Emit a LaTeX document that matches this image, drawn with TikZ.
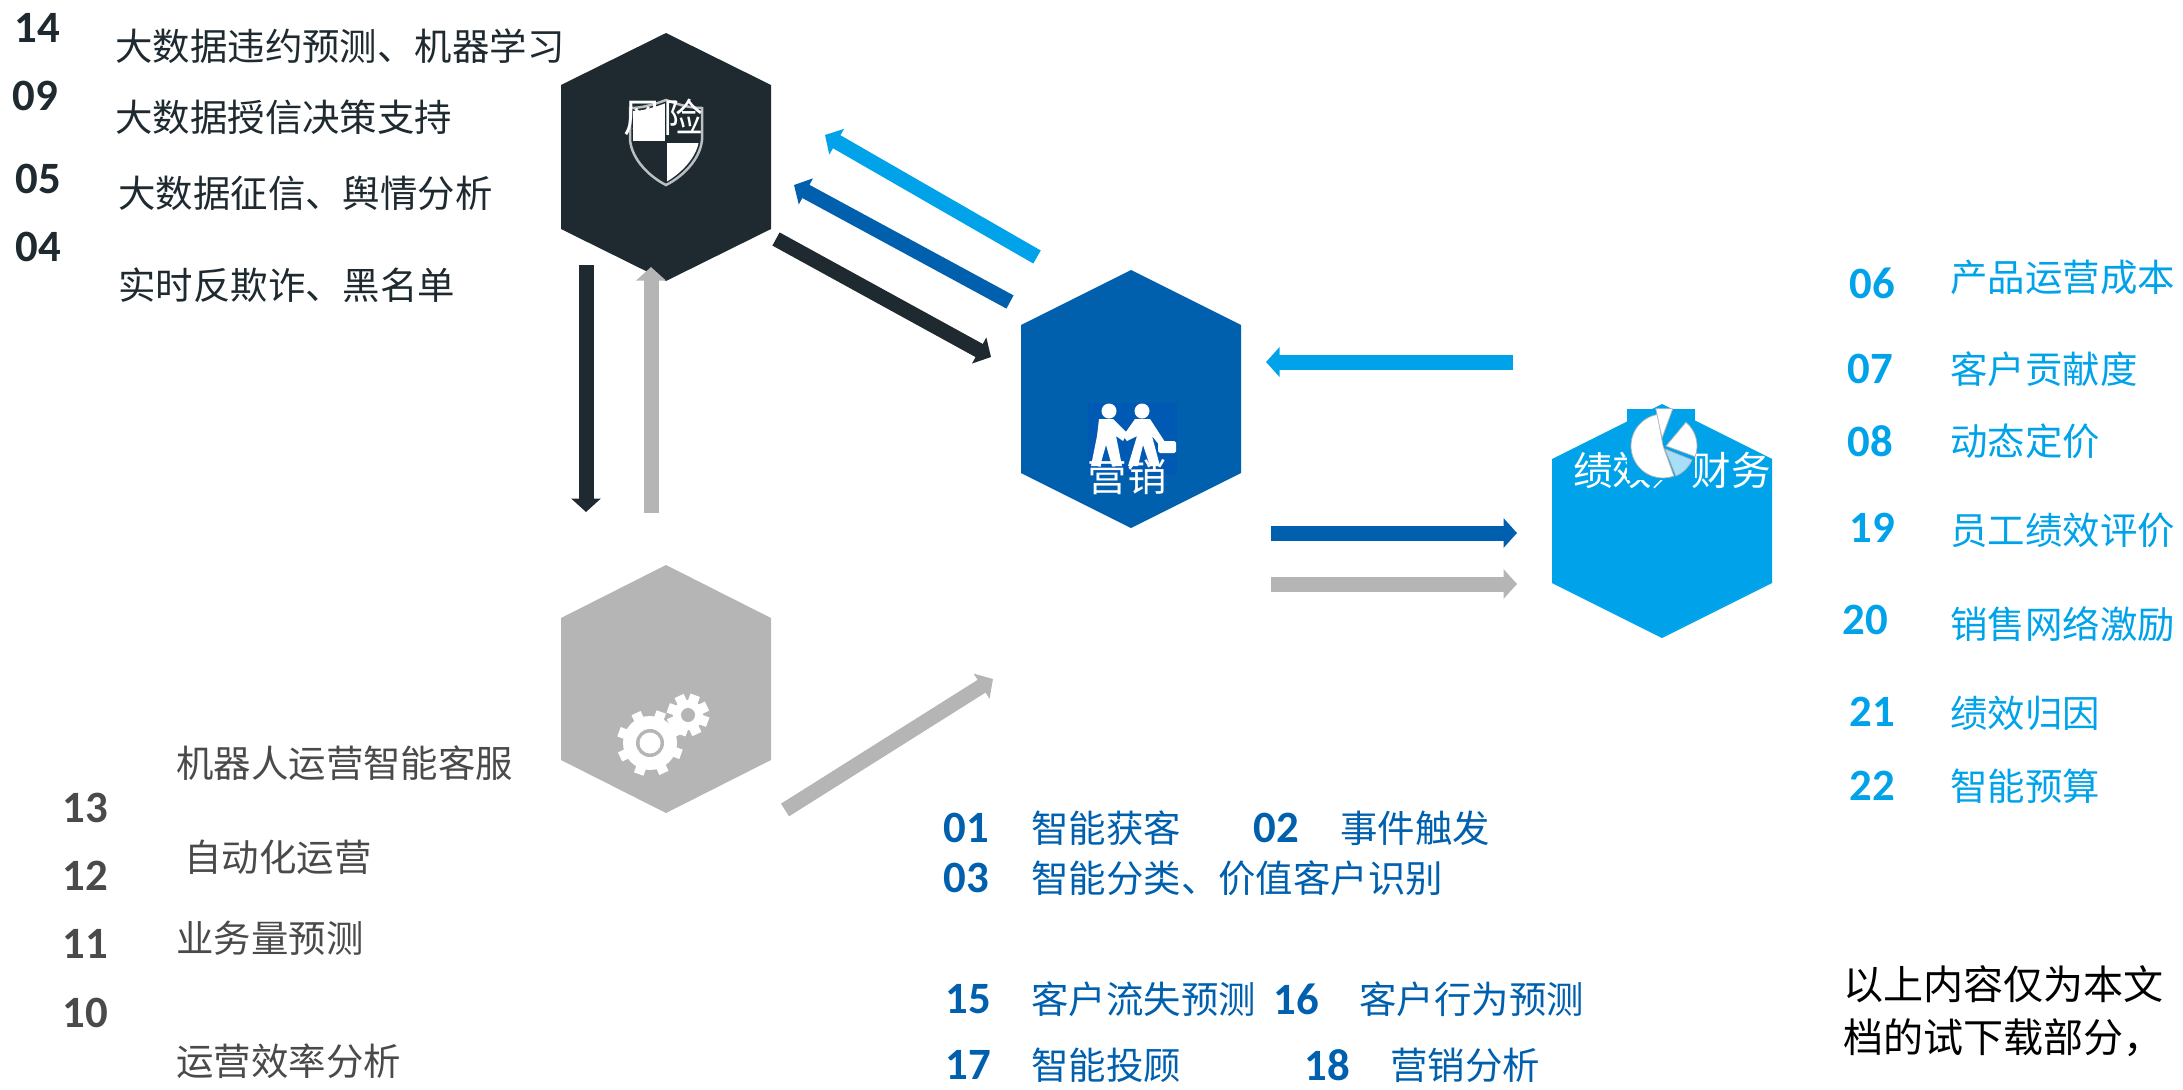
\documentclass[tikz,border=0pt]{standalone}
\usepackage{fontspec}
\setmainfont{Noto Sans CJK SC}
\newfontfamily\numfont{Carlito}
\usetikzlibrary{arrows.meta}
\definecolor{riskdark}{HTML}{1E2A30}
\definecolor{salesblue}{HTML}{0060AE}
\definecolor{financeblue}{HTML}{00A3E9}
\definecolor{opsgray}{HTML}{B5B5B5}
\definecolor{opstext}{HTML}{4A4A4A}
\tikzset{
  fatarrow/.style={line width=.3cm,-{Triangle[width=.58cm,length=.27cm]}},
  txt/.style={anchor=west,inner sep=0pt,font=\fontsize{21.3}{21.3}\selectfont},
  num/.style={inner sep=0pt,font=\fontsize{25.5}{25.5}\selectfont\numfont\bfseries},
  hexlabel/.style={inner sep=0pt,text=white,font=\fontsize{22.5}{22.5}\selectfont},
  notice/.style={anchor=west,inner sep=0pt,font=\fontsize{22.8}{22.8}\selectfont}
}
\begin{document}
\begin{tikzpicture}[x=.02cm,y=-.02cm]
\useasboundingbox (0,0) rectangle (2183,1089);
\fill[riskdark] (666,33) -- (771,85) -- (771,229) -- (666,281) -- (561,229) -- (561,85) -- cycle;
\fill[salesblue] (1131,270) -- (1241,325) -- (1241,473) -- (1131,528) -- (1021,473) -- (1021,325) -- cycle;
\fill[financeblue] (1662,404) -- (1772,459) -- (1772,583) -- (1662,638) -- (1552,583) -- (1552,459) -- cycle;
\fill[opsgray] (666,565) -- (771,618) -- (771,760) -- (666,813) -- (561,760) -- (561,618) -- cycle;
\draw[white!70!riskdark,line width=.05cm,fill=riskdark] (666,100) .. controls (650,106) and (640,108) .. (630,108) -- (630,140) .. controls (632,160) and (650,177) .. (666,185) .. controls (682,177) and (700,160) .. (702,140) -- (702,108) .. controls (692,108) and (682,106) .. (666,100) -- cycle;
\begin{scope}
\clip (666,103) .. controls (650,109) and (640,111) .. (633,111) -- (633,140) .. controls (635,158) and (652,174) .. (666,182) .. controls (680,174) and (697,158) .. (699,140) -- (699,111) .. controls (692,111) and (682,109) .. (666,103) -- cycle;
\fill[white] (630,100) rectangle (665,141);
\fill[white] (667,143) rectangle (702,185);
\end{scope}
\fill[blue!6!salesblue] (1088,403) rectangle (1177,475);
\fill[white] (1109,411) circle (7.5);
\fill[white] (1142,411) circle (7.5);
\fill[white] (1099,419) -- (1113,419) -- (1127,433) -- (1123,441) -- (1116,436) -- (1122,466) -- (1112,466) -- (1106,445) -- (1100,466) -- (1091,466) -- (1097,436) -- cycle;
\fill[white] (1135,419) -- (1150,419) -- (1165,442) -- (1160,446) -- (1152,436) -- (1160,466) -- (1150,466) -- (1143,445) -- (1138,466) -- (1128,466) -- (1137,436) -- (1127,441) -- (1123,436) -- cycle;
\fill[white,rounded corners=1pt] (1158,441) rectangle (1176,453);
\foreach \gx/\gy/\grad in {650/743/27,688/715/15}{
  \fill[white] (\gx,\gy) circle (\grad);
  \foreach \ang in {0,45,...,315}
    \draw[white,line width=.2cm] (\gx,\gy) ++(\ang+20:\grad-4) -- ++(\ang+20:10);
}
\fill[opsgray] (650,743) circle (14);
\fill[white] (650,743) circle (10.5);
\fill[opsgray] (688,715) circle (7);
\node[hexlabel] (riskname) at (663,117) {风险};
\node[hexlabel] (salesname) at (1127,477) {营销};
\node[hexlabel] (financename) at (1672,470) {绩效／财务};
\fill[financeblue] (1627,409) rectangle (1695,480);
\begin{scope}[draw=white!65!riskdark,line width=.015cm]
\filldraw[fill=white] (1663,446) -- ++(-100:32) arc[start angle=-100,end angle=-290,radius=32] -- cycle;
\filldraw[fill=white] (1663,446) ++(-1,-8) -- ++(-102:30) -- ++(0:17) -- cycle;
\filldraw[fill=white] (1666,446) -- ++(-50:31) arc[start angle=-50,end angle=20,radius=31] -- cycle;
\filldraw[fill=financeblue!35!white] (1665,449) -- ++(22:29) arc[start angle=22,end angle=68,radius=29] -- cycle;
\end{scope}
\coordinate (lightTail) at (1037,257);
\coordinate (lightTip) at (825,135);
\coordinate (midTail) at (1010,302);
\coordinate (midTip) at (794,185);
\coordinate (darkTail) at (776,239);
\coordinate (darkTip) at (991,357);
\coordinate (backTail) at (1513,362);
\coordinate (backTip) at (1266,362);
\coordinate (blueTail) at (1271,533);
\coordinate (blueTip) at (1517,533);
\coordinate (grayTail) at (1271,584);
\coordinate (grayTip) at (1517,584);
\coordinate (downTail) at (586,265);
\coordinate (downTip) at (586,512);
\coordinate (upTail) at (651,513);
\coordinate (upTip) at (651,267);
\coordinate (opsTail) at (785,810);
\coordinate (opsTip) at (993,679);
\draw[fatarrow,financeblue] (lightTail) -- (lightTip);
\draw[fatarrow,salesblue] (midTail) -- (midTip);
\draw[fatarrow,riskdark] (darkTail) -- (darkTip);
\draw[fatarrow,financeblue] (backTail) -- (backTip);
\draw[fatarrow,salesblue] (blueTail) -- (blueTip);
\draw[fatarrow,opsgray] (grayTail) -- (grayTip);
\draw[fatarrow,riskdark] (downTail) -- (downTip);
\draw[fatarrow,opsgray] (upTail) -- (upTip);
\draw[fatarrow,opsgray] (opsTail) -- (opsTip);
\begin{scope}[every node/.append style={text=riskdark}]
\node[num] (n14) at (37,28) {14};
\node[num] (n09) at (35,96) {09};
\node[num] (n05) at (38,179) {05};
\node[num] (n04) at (38,247) {04};
\node[txt] (t14) at (115,46) {大数据违约预测、机器学习};
\node[txt] (t09) at (115,117) {大数据授信决策支持};
\node[txt] (t05) at (118,193) {大数据征信、舆情分析};
\node[txt] (t04) at (118,285) {实时反欺诈、黑名单};
\end{scope}
\begin{scope}[every node/.append style={text=opstext}]
\node[num] (n13) at (85,808) {13};
\node[num] (n12) at (85,876) {12};
\node[num] (n11) at (85,944) {11};
\node[num] (n10) at (85,1013) {10};
\node[txt] (t13) at (176,763) {机器人运营智能客服};
\node[txt] (t12) at (184,857) {自动化运营};
\node[txt] (t11) at (176,938) {业务量预测};
\node[txt] (t10) at (176,1061) {运营效率分析};
\end{scope}
\begin{scope}[every node/.append style={text=salesblue}]
\node[num] (n01) at (966,828) {01};
\node[txt] (t01) at (1031,828) {智能获客};
\node[num] (n02) at (1276,828) {02};
\node[txt] (t02) at (1340,828) {事件触发};
\node[num] (n03) at (966,878) {03};
\node[txt] (t03) at (1031,878) {智能分类、价值客户识别};
\node[num] (n15) at (968,999) {15};
\node[txt] (t15) at (1031,999) {客户流失预测};
\node[num] (n16) at (1296,999) {16};
\node[txt] (t16) at (1359,999) {客户行为预测};
\node[num] (n17) at (968,1065) {17};
\node[txt] (t17) at (1031,1065) {智能投顾};
\node[num] (n18) at (1327,1065) {18};
\node[txt] (t18) at (1390,1065) {营销分析};
\end{scope}
\begin{scope}[every node/.append style={text=financeblue}]
\node[num] (n06) at (1872,283) {06};
\node[txt] (t06) at (1950,277) {产品运营成本};
\node[num] (n07) at (1870,369) {07};
\node[txt] (t07) at (1950,369) {客户贡献度};
\node[num] (n08) at (1870,441) {08};
\node[txt] (t08) at (1950,441) {动态定价};
\node[num] (n19) at (1872,528) {19};
\node[txt] (t19) at (1950,530) {员工绩效评价};
\node[num] (n20) at (1865,620) {20};
\node[txt] (t20) at (1950,624) {销售网络激励};
\node[num] (n21) at (1872,712) {21};
\node[txt] (t21) at (1950,713) {绩效归因};
\node[num] (n22) at (1872,786) {22};
\node[txt] (t22) at (1950,786) {智能预算};
\end{scope}
\node[notice] (notice1) at (1843,984) {以上内容仅为本文};
\node[notice] (notice2) at (1843,1038) {档的试下载部分，};
\end{tikzpicture}
\end{document}
